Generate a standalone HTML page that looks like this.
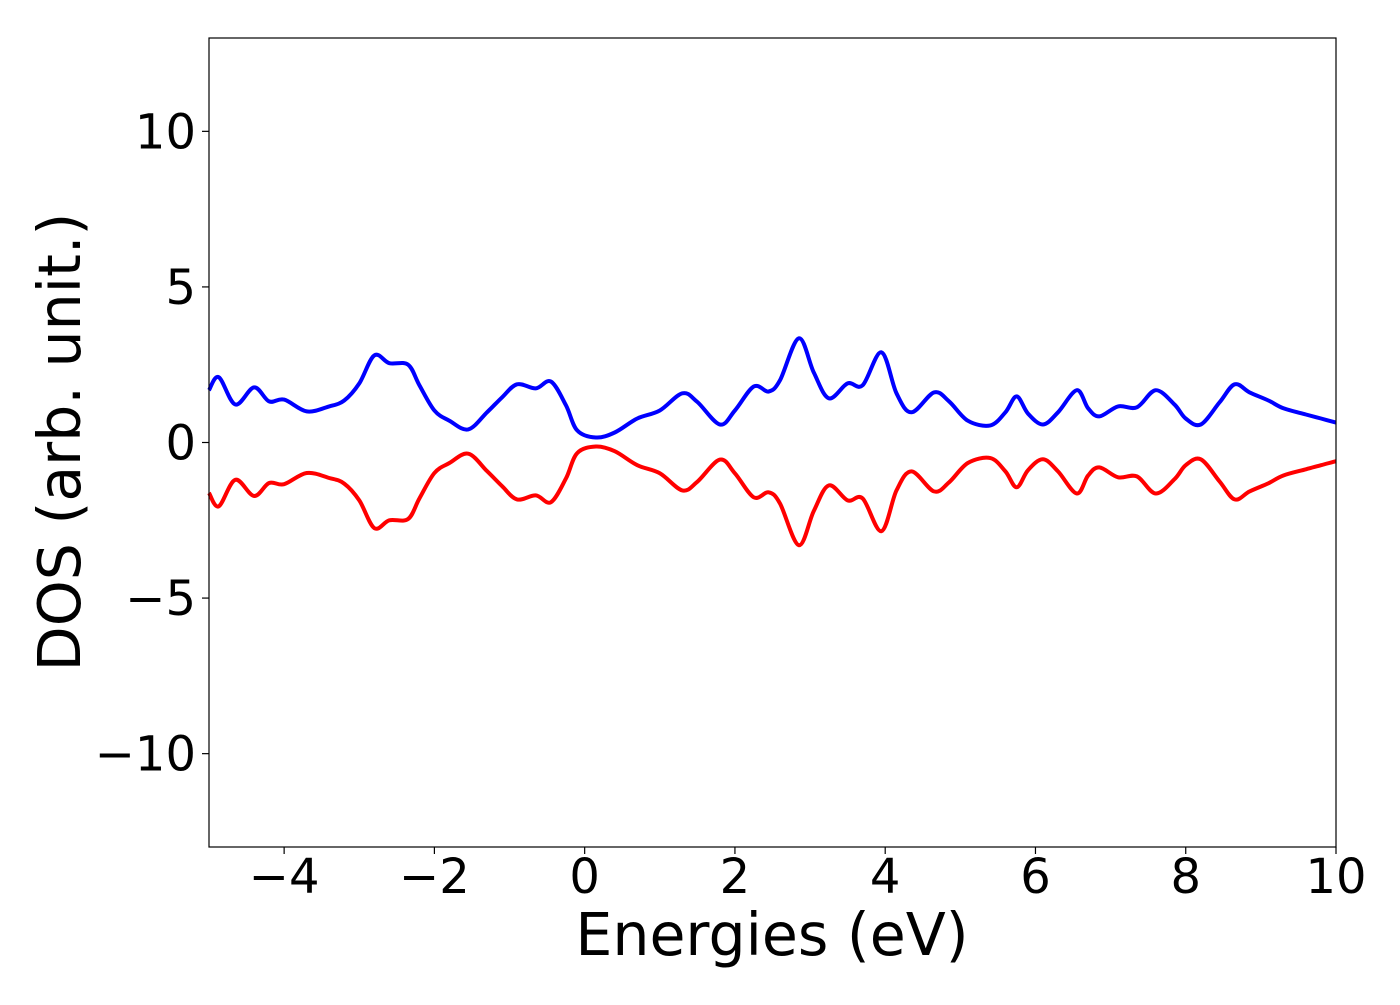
<!DOCTYPE html>
<html><head><meta charset="utf-8"><style>
html,body{margin:0;padding:0;background:#fff;}
svg text{font-family:"DejaVu Sans","Liberation Sans",sans-serif;fill:#000;}
</style></head><body>
<svg id="chart" width="1400" height="1000" viewBox="0 0 1400 1000" xmlns="http://www.w3.org/2000/svg">
<rect x="0" y="0" width="1400" height="1000" fill="#fff"/>
<g id="plot"></g>
<rect x="209" y="38" width="1127" height="809" fill="none" stroke="#000" stroke-width="1.2"/>
<g id="xticks"></g>
<g id="yticks"></g>
<text x="772" y="955" font-size="58.5" text-anchor="middle">Energies (eV)</text>
<text transform="translate(80,442) rotate(-90)" font-size="58.5" text-anchor="middle">DOS (arb. unit.)</text>
</svg>
<script>
const energies = [-5,-4.87,-4.65,-4.4,-4.2,-4.0,-3.7,-3.4,-3.2,-3.0,-2.8,-2.6,-2.35,-2.2,-2.0,-1.8,-1.55,-1.3,-1.1,-0.9,-0.65,-0.45,-0.25,-0.1,0.15,0.4,0.7,1.0,1.3,1.5,1.8,2.0,2.25,2.45,2.6,2.85,3.05,3.25,3.5,3.7,3.95,4.15,4.35,4.65,4.85,5.1,5.4,5.6,5.75,5.9,6.1,6.3,6.55,6.7,6.85,7.1,7.35,7.6,7.85,8.0,8.2,8.45,8.65,8.85,9.1,9.3,9.6,9.8,10];
const dosUp = [1.68,2.1,1.22,1.77,1.32,1.38,1.0,1.16,1.35,1.9,2.8,2.55,2.5,1.84,1.03,0.7,0.42,0.97,1.45,1.87,1.74,1.96,1.2,0.39,0.16,0.32,0.77,1.03,1.58,1.3,0.58,1.03,1.8,1.64,2.0,3.35,2.25,1.42,1.9,1.84,2.9,1.58,0.97,1.61,1.32,0.7,0.55,0.97,1.48,0.93,0.58,0.97,1.68,1.1,0.84,1.16,1.13,1.68,1.22,0.77,0.58,1.29,1.87,1.61,1.35,1.1,0.9,0.77,0.64];
const dosDown = [-1.62,-2.05,-1.2,-1.72,-1.3,-1.34,-0.98,-1.14,-1.32,-1.86,-2.75,-2.5,-2.46,-1.8,-0.98,-0.66,-0.36,-0.92,-1.4,-1.83,-1.7,-1.92,-1.16,-0.34,-0.13,-0.28,-0.73,-0.99,-1.54,-1.26,-0.55,-0.99,-1.76,-1.6,-1.96,-3.3,-2.2,-1.38,-1.86,-1.8,-2.85,-1.54,-0.93,-1.57,-1.28,-0.66,-0.5,-0.93,-1.44,-0.89,-0.54,-0.93,-1.64,-1.06,-0.8,-1.12,-1.09,-1.64,-1.18,-0.73,-0.54,-1.25,-1.83,-1.57,-1.31,-1.06,-0.86,-0.73,-0.6];
const xTicks = [-4,-2,0,2,4,6,8,10];
const yTicks = [-10,-5,0,5,10];
const NS="http://www.w3.org/2000/svg";
const X0=209,X1=1336,Y0=38,Y1=847,XMIN=-5,XMAX=10,YMIN=-13,YMAX=13;
function sx(v){return X0+(v-XMIN)/(XMAX-XMIN)*(X1-X0);}
function sy(v){return Y1-(v-YMIN)/(YMAX-YMIN)*(Y1-Y0);}
function pathFor(xs,ys){
  const p=xs.map((x,i)=>[sx(x),sy(ys[i])]);
  let d="M"+p[0][0].toFixed(1)+","+p[0][1].toFixed(1);
  for(let i=0;i<p.length-1;i++){
    const a=p[Math.max(0,i-1)],b=p[i],c=p[i+1],e=p[Math.min(p.length-1,i+2)];
    const c1x=b[0]+(c[0]-a[0])/6,c1y=b[1]+(c[1]-a[1])/6;
    const c2x=c[0]-(e[0]-b[0])/6,c2y=c[1]-(e[1]-b[1])/6;
    d+=` C${c1x.toFixed(1)},${c1y.toFixed(1)} ${c2x.toFixed(1)},${c2y.toFixed(1)} ${c[0].toFixed(1)},${c[1].toFixed(1)}`;
  }
  return d;
}
const plot=document.getElementById('plot');
const up=document.createElementNS(NS,'path');
up.setAttribute('d',pathFor(energies,dosUp));
up.setAttribute('fill','none');up.setAttribute('stroke','#0000ff');up.setAttribute('stroke-width','4');


plot.appendChild(up);
const dn=document.createElementNS(NS,'path');
dn.setAttribute('d',pathFor(energies,dosDown));
dn.setAttribute('fill','none');dn.setAttribute('stroke','#ff0000');dn.setAttribute('stroke-width','4');


plot.appendChild(dn);
const xg=document.getElementById('xticks');
xTicks.forEach(t=>{
  const l=document.createElementNS(NS,'line');
  l.setAttribute('x1',sx(t));l.setAttribute('x2',sx(t));l.setAttribute('y1',Y1);l.setAttribute('y2',Y1+7);
  l.setAttribute('stroke','#000');l.setAttribute('stroke-width','1.2');
  
  
  xg.appendChild(l);
  const tx=document.createElementNS(NS,'text');
  tx.setAttribute('x',sx(t));tx.setAttribute('y',893);tx.setAttribute('font-size','48');tx.setAttribute('text-anchor','middle');
  tx.textContent=(t<0?'\u2212':'')+Math.abs(t);
  
  
  xg.appendChild(tx);
});
const yg=document.getElementById('yticks');
yTicks.forEach(t=>{
  const l=document.createElementNS(NS,'line');
  l.setAttribute('x1',X0-7);l.setAttribute('x2',X0);l.setAttribute('y1',sy(t));l.setAttribute('y2',sy(t));
  l.setAttribute('stroke','#000');l.setAttribute('stroke-width','1.2');
  
  
  yg.appendChild(l);
  const tx=document.createElementNS(NS,'text');
  tx.setAttribute('x',X0-13);tx.setAttribute('y',sy(t)+17);tx.setAttribute('font-size','48');tx.setAttribute('text-anchor','end');
  tx.textContent=(t<0?'\u2212':'')+Math.abs(t);
  
  
  yg.appendChild(tx);
});
</script>
</body></html>
